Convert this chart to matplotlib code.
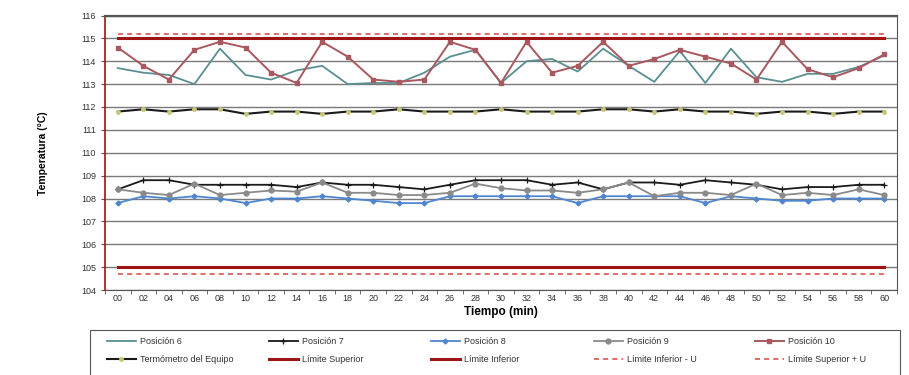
import matplotlib
matplotlib.use("Agg")
import matplotlib.pyplot as plt
from matplotlib.patches import Rectangle
import numpy as np

# ==============================================================
# DATOS
# ==============================================================
tiempos = ["00", "02", "04", "06", "08", "10", "12", "14", "16", "18", "20",
           "22", "24", "26", "28", "30", "32", "34", "36", "38", "40",
           "42", "44", "46", "48", "50", "52", "54", "56", "58", "60"]

pos6 = [113.7, 113.5, 113.4, 113.0, 114.55, 113.4, 113.2, 113.6, 113.8, 113.0, 113.05,
        113.05, 113.5, 114.2, 114.5, 113.05, 114.0, 114.1, 113.55, 114.55, 113.8,
        113.1, 114.45, 113.05, 114.55, 113.3, 113.1, 113.45, 113.45, 113.75, 114.25]

pos7 = [108.4, 108.8, 108.8, 108.6, 108.6, 108.6, 108.6, 108.5, 108.7, 108.6, 108.6,
        108.5, 108.4, 108.6, 108.8, 108.8, 108.8, 108.6, 108.7, 108.4, 108.7,
        108.7, 108.6, 108.8, 108.7, 108.6, 108.4, 108.5, 108.5, 108.6, 108.6]

pos8 = [107.8, 108.1, 108.0, 108.1, 108.0, 107.8, 108.0, 108.0, 108.1, 108.0, 107.9,
        107.8, 107.8, 108.1, 108.1, 108.1, 108.1, 108.1, 107.8, 108.1, 108.1,
        108.1, 108.1, 107.8, 108.1, 108.0, 107.9, 107.9, 108.0, 108.0, 108.0]

pos9 = [108.4, 108.25, 108.15, 108.65, 108.15, 108.25, 108.35, 108.3, 108.7, 108.25, 108.25,
        108.15, 108.15, 108.25, 108.65, 108.45, 108.35, 108.35, 108.25, 108.4, 108.7,
        108.1, 108.25, 108.25, 108.15, 108.65, 108.15, 108.25, 108.15, 108.4, 108.15]

pos10 = [114.6, 113.8, 113.2, 114.5, 114.85, 114.6, 113.5, 113.05, 114.85, 114.2, 113.2,
         113.1, 113.2, 114.85, 114.5, 113.05, 114.85, 113.5, 113.8, 114.85, 113.8,
         114.1, 114.5, 114.2, 113.9, 113.2, 114.85, 113.65, 113.3, 113.7, 114.3]

termometro = [111.8, 111.9, 111.8, 111.9, 111.9, 111.7, 111.8, 111.8, 111.7, 111.8, 111.8,
              111.9, 111.8, 111.8, 111.8, 111.9, 111.8, 111.8, 111.8, 111.9, 111.9,
              111.8, 111.9, 111.8, 111.8, 111.7, 111.8, 111.8, 111.7, 111.8, 111.8]

LIM_SUP = 115.0
LIM_INF = 105.0
LIM_SUP_U = 115.2
LIM_INF_U = 104.7

# ==============================================================
# GRÁFICA
# ==============================================================
plt.rcParams['font.family'] = ['Liberation Sans', 'DejaVu Sans']

W, H = 909, 375
fig = plt.figure(figsize=(W / 100, H / 100), dpi=100)
ax = fig.add_axes([105 / W, 1 - 290 / H, (897 - 105) / W, (290 - 15.5) / H])

x = np.arange(len(tiempos))
n = len(tiempos)

ax.plot(x, pos6, color='#5a8f92', lw=1.3, label='Posición 6', zorder=4)
ax.plot(x, pos7, color='#1a1a1a', lw=1.3, marker='+', ms=4, mew=0.9,
        label='Posición 7', zorder=4)
ax.plot(x, pos8, color='#4f86d0', lw=1.3, marker='D', ms=2.5,
        label='Posición 8', zorder=4)
ax.plot(x, pos9, color='#8a8a8a', lw=1.3, marker='o', ms=3.5,
        label='Posición 9', zorder=4)
ax.plot(x, pos10, color='#a8585e', lw=1.4, marker='s', ms=3,
        label='Posición 10', zorder=4)
ax.plot(x, termometro, color='#1a1a1a', lw=1.5, marker='o', ms=2.5,
        mfc='#c9c77a', mec='#c9c77a', label='Termómetro del Equipo', zorder=4)
ax.plot(x, [LIM_SUP] * n, color='#9e1414', lw=2.2, label='Límite Superior', zorder=3)
ax.plot(x, [LIM_INF] * n, color='#9e1414', lw=2.2, label='Límite Inferior', zorder=3)
ax.plot(x, [LIM_INF_U] * n, color='#d9534f', lw=1.2, ls=(0, (3, 2.5)),
        label='Límite Inferior - U', zorder=3)
ax.plot(x, [LIM_SUP_U] * n, color='#d9534f', lw=1.2, ls=(0, (3, 2.5)),
        label='Límite Superior + U', zorder=3)

ax.set_xlim(-0.5, n - 0.5)
ax.set_ylim(104, 116)
ax.set_yticks(np.arange(104, 117, 1))
ax.set_xticks(x)
ax.set_xticklabels(tiempos)
ax.set_xticks(np.arange(-0.5, n, 1), minor=True)
ax.tick_params(axis='x', which='major', length=0, labelsize=6.5, pad=3,
               labelcolor='#333333')
ax.tick_params(axis='x', which='minor', length=3, color='#555555')
ax.tick_params(axis='y', labelsize=6.5, length=3, color='#555555',
               labelcolor='#333333')
ax.yaxis.grid(True, color='#7a7a7a', lw=1.0)
ax.set_axisbelow(True)

ax.spines['left'].set_color('#9e1414')
ax.spines['left'].set_linewidth(1.2)
for s in ['top', 'right', 'bottom']:
    ax.spines[s].set_color('#555555')
ax.spines['top'].set_linewidth(1.6)

ax.set_ylabel('Temperatura (°C)', fontsize=7.5, fontweight='bold', labelpad=24)
ax.set_xlabel('Tiempo (min)', fontsize=8.5, fontweight='bold', labelpad=2)

# ----------- LEYENDA (5 columnas, 2 filas) ----------- #
fig.patches.append(Rectangle((90 / W, 1 - 385 / H), (900 - 90) / W, 55 / H,
                             transform=fig.transFigure, fill=False,
                             edgecolor='#555555', lw=0.8))

handles, labels = ax.get_legend_handles_labels()
col_x = [107, 269, 431, 594, 755]
for c, cx in enumerate(col_x):
    hs = [handles[c], handles[c + 5]]
    ls = [labels[c], labels[c + 5]]
    fig.legend(hs, ls, loc='upper left', bbox_to_anchor=(cx / W, 1 - 337 / H),
               frameon=False, fontsize=6.5, handlelength=3.2, borderpad=0,
               borderaxespad=0, labelspacing=1.05, handletextpad=0.45,
               labelcolor='#333333')

fig.savefig('out.png', dpi=100, facecolor='white')
